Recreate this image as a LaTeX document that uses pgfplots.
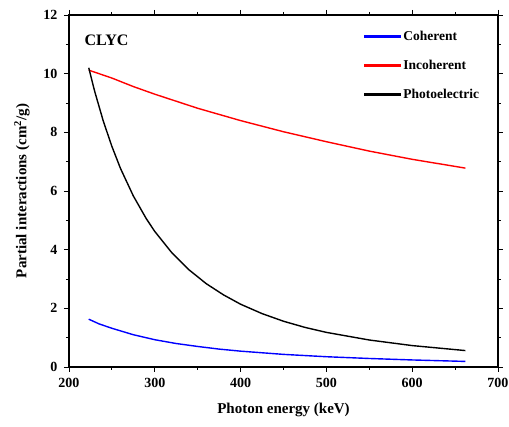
\documentclass[border=0pt]{standalone}
\usepackage{fontspec}
\setmainfont{Liberation Serif}
\usepackage{pgfplots}
\pgfplotsset{compat=1.18}
\usetikzlibrary{calc}

\begin{document}
\begin{tikzpicture}
\useasboundingbox (-69pt,-60pt) rectangle (440pt,367pt);
\begin{axis}[
  at={(0,0)}, anchor=south west,
  scale only axis,
  width=429pt, height=352pt,
  xmin=200, xmax=700, ymin=0, ymax=12,
  xtick={200,300,...,700}, ytick={0,2,...,12},
  minor x tick num=1, minor y tick num=1,
  tick align=outside,
  major tick length=5pt, minor tick length=3pt,
  axis line style={line width=1.1pt},
  every tick/.style={line width=0.9pt, black},
  /pgf/number format/assume math mode=true,
  ticklabel style={font=\fontsize{14}{14}\selectfont\bfseries},
  yticklabel style={xshift=-3pt},
  xticklabel style={yshift=-3pt},
  xlabel={Photon energy (keV)},
  ylabel={Partial interactions (cm$^{\mathbf{2}}$/g)},
  label style={font=\fontsize{15}{15}\selectfont\bfseries},
  xlabel style={at={($(rel axis cs:0.5,0)+(0,-43pt)$)}, anchor=center},
  ylabel style={at={($(rel axis cs:0,0.5)+(-47pt,0)$)}, anchor=center},
  legend style={draw=none, fill=none, at={(0.68,0.965)}, anchor=north west,
    font=\fontsize{13.5}{14}\selectfont\bfseries, row sep=14pt},
  legend cell align=left,
  legend image code/.code={\fill[#1] (0pt,-0.8pt) rectangle (36pt,0.8pt);},
]
\addplot[blue, line width=1.4pt] coordinates {
(223,1.63) (235,1.47) (250,1.32) (275,1.10) (300,0.93) (325,0.80) (350,0.70)
(375,0.61) (400,0.54) (450,0.43) (500,0.35) (550,0.29) (600,0.24) (662,0.19)};
\addlegendentry{Coherent}
\addplot[red, line width=1.4pt] coordinates {
(223,10.12) (250,9.85) (275,9.56) (300,9.30) (350,8.82) (400,8.40) (450,8.02)
(500,7.68) (550,7.36) (600,7.08) (662,6.78)};
\addlegendentry{Incoherent}
\addplot[black, line width=1.4pt] coordinates {
(223,10.20) (230,9.39) (240,8.38) (250,7.52) (260,6.77) (275,5.83) (290,5.06)
(300,4.62) (320,3.89) (340,3.31) (360,2.84) (380,2.46) (400,2.14) (425,1.82)
(450,1.56) (475,1.35) (500,1.18) (550,0.92) (600,0.73) (662,0.56)};
\addlegendentry{Photoelectric}
\node[anchor=west, font=\fontsize{16}{16}\selectfont\bfseries] at (rel axis cs:0.028,0.929) {CLYC};
\end{axis}
\end{tikzpicture}
\end{document}
